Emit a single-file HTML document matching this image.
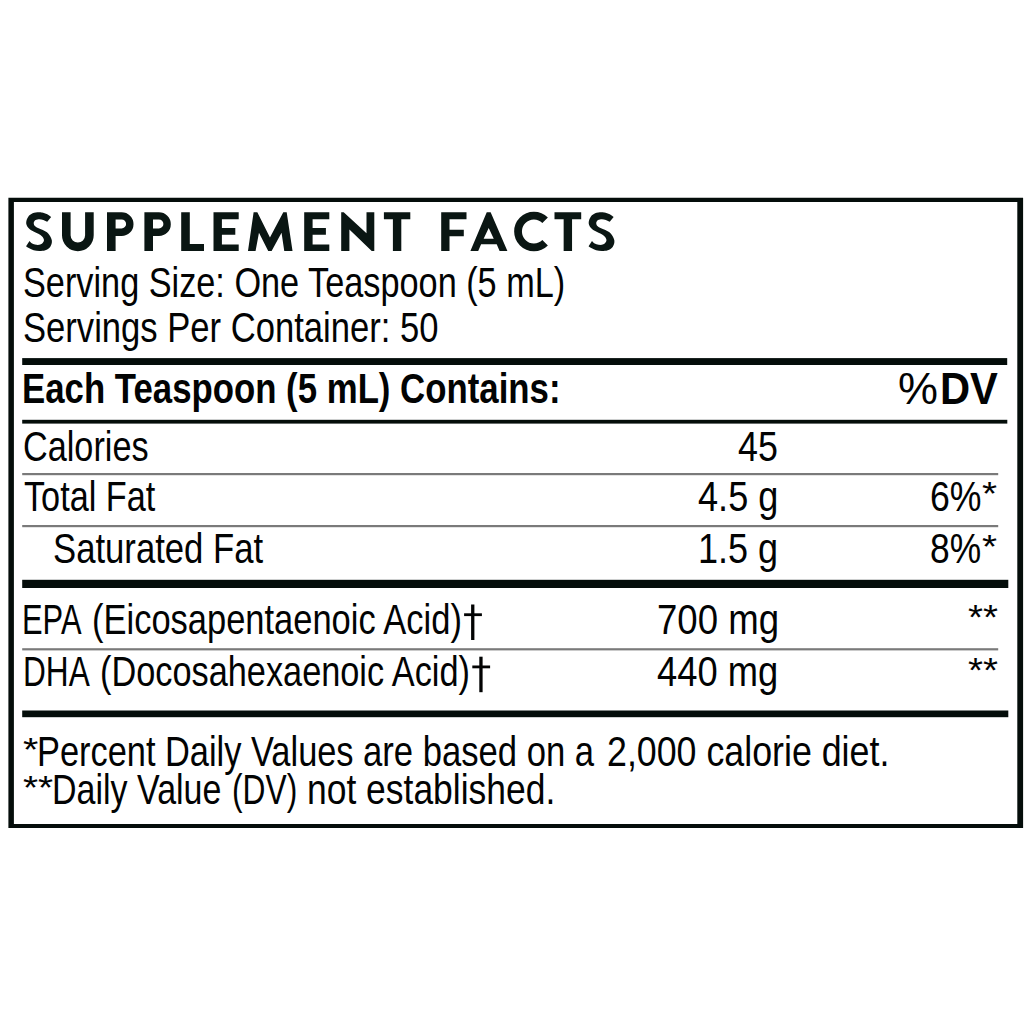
<!DOCTYPE html>
<html><head><meta charset="utf-8"><title>Supplement Facts</title>
<style>
html,body{margin:0;padding:0;background:#fff;}
body{width:1028px;height:1028px;position:relative;overflow:hidden;font-family:"Liberation Sans",sans-serif;color:#020303;}
.t{position:absolute;white-space:nowrap;line-height:1;transform-origin:0 0;margin:0;padding:0;}
#wrap{position:absolute;left:0;top:0;width:1028px;height:1028px;}
#l1{left:22.71px;top:261.40px;font-size:43px;font-weight:400;transform:scaleX(0.7969);}
#l2{left:22.69px;top:305.80px;font-size:43px;font-weight:400;transform:scaleX(0.8049);}
#h1{left:22.47px;top:367.30px;font-size:43px;font-weight:700;transform:scaleX(0.8088);}
#pc{left:897.64px;top:368.10px;font-size:43.6px;font-weight:400;transform:scaleX(1.0314);}
#dv{left:939.73px;top:368.10px;font-size:43.6px;font-weight:700;transform:scaleX(0.9561);}
#r1a{left:23.31px;top:424.50px;font-size:43px;font-weight:400;transform:scaleX(0.7961);}
#r1b{left:738.07px;top:424.50px;font-size:43px;font-weight:400;transform:scaleX(0.8333);}
#r2a{left:23.70px;top:475.10px;font-size:43px;font-weight:400;transform:scaleX(0.7963);}
#r2b{left:698.26px;top:475.10px;font-size:43px;font-weight:400;transform:scaleX(0.8402);}
#r2c{left:929.74px;top:475.10px;font-size:43px;font-weight:400;transform:scaleX(0.8288);}
#r3a{left:53.49px;top:526.90px;font-size:43px;font-weight:400;transform:scaleX(0.8066);}
#r3b{left:698.49px;top:526.90px;font-size:43px;font-weight:400;transform:scaleX(0.8378);}
#r3c{left:930.16px;top:526.90px;font-size:43px;font-weight:400;transform:scaleX(0.8220);}
#r4a0{left:22.33px;top:597.80px;font-size:43px;font-weight:400;transform:scaleX(0.7177);}
#r4a{left:92.39px;top:597.80px;font-size:43px;font-weight:400;transform:scaleX(0.8018);}
#r4b{left:656.50px;top:597.90px;font-size:43px;font-weight:400;transform:scaleX(0.8504);}
#r5a0{left:22.96px;top:650.00px;font-size:43px;font-weight:400;transform:scaleX(0.7356);}
#r5a{left:100.11px;top:650.00px;font-size:43px;font-weight:400;transform:scaleX(0.7978);}
#r5b{left:657.36px;top:650.10px;font-size:43px;font-weight:400;transform:scaleX(0.8443);}
#f1a{left:37.20px;top:730.10px;font-size:43px;font-weight:400;transform:scaleX(0.7995);}
#f1b{left:363.39px;top:730.10px;font-size:43px;font-weight:400;transform:scaleX(0.8053);}
#f1c{left:607.34px;top:730.10px;font-size:43px;font-weight:400;transform:scaleX(0.8317);}
#f2a{left:52.44px;top:768.30px;font-size:43px;font-weight:400;transform:scaleX(0.7904);}
#f2b{left:231.68px;top:768.30px;font-size:43px;font-weight:400;transform:scaleX(0.7386);}
#f2c{left:306.73px;top:768.30px;font-size:43px;font-weight:400;transform:scaleX(0.8241);}
#a1{left:982.32px;top:477.32px;font-size:36px;font-weight:400;transform:scale(1.0750,0.9462);}
#a2{left:982.32px;top:529.62px;font-size:36px;font-weight:400;transform:scale(1.0750,0.9462);}
#a3{left:967.53px;top:600.15px;font-size:36px;font-weight:400;transform:scale(1.0692,0.9615);}
#a4{left:967.53px;top:652.75px;font-size:36px;font-weight:400;transform:scale(1.0692,0.9615);}
#a5{left:22.71px;top:732.62px;font-size:36px;font-weight:400;transform:scale(1.0917,0.9462);}
#a6{left:22.72px;top:771.32px;font-size:36px;font-weight:400;transform:scale(1.0769,0.9462);}
</style></head><body>
<div id="wrap">
<svg id="lines" width="1028" height="1028" viewBox="0 0 1028 1028" style="position:absolute;left:0;top:0"><path fill="#040d0a" fill-rule="evenodd" d="M8.4,197.8H1023.1V828.1H8.4Z M13.9,202.1V824.0H1017.3V202.1Z"/><rect x="22.2" y="358.1" width="985.0" height="6.9" fill="#040d0a"/><rect x="22.2" y="419.8" width="985.1" height="3.8" fill="#040d0a"/><rect x="22.2" y="473.0" width="976.0" height="2.2" fill="#7a7a7a"/><rect x="22.2" y="525.0" width="976.0" height="2.2" fill="#7a7a7a"/><rect x="22.2" y="579.8" width="986.1" height="8.2" fill="#040d0a"/><rect x="22.2" y="648.2" width="976.0" height="2.2" fill="#7a7a7a"/><rect x="22.2" y="710.5" width="986.1" height="6.7" fill="#040d0a"/><rect x="471.1" y="604.5" width="3.3" height="35.5" fill="#020303"/><rect x="464.1" y="613.3" width="17.8" height="2.8" fill="#020303"/><rect x="479.3" y="656.7" width="3.3" height="35.5" fill="#020303"/><rect x="472.3" y="665.5" width="17.8" height="2.8" fill="#020303"/></svg>
<svg id="title" width="640" height="60" viewBox="0 200 640 60" style="position:absolute;left:0;top:200px;overflow:visible"><path fill="#0a1613" fill-rule="nonzero" d="M51.14,216.98C50.49,216.53 48.79,215.03 47.25,214.30C45.71,213.57 43.32,212.94 41.90,212.60C40.48,212.26 40.28,212.13 38.73,212.26C37.19,212.38 34.40,212.58 32.65,213.33C30.91,214.07 29.34,215.27 28.27,216.73C27.20,218.19 26.39,220.46 26.23,222.09C26.07,223.71 26.47,225.09 27.30,226.46C28.13,227.84 29.73,229.30 31.19,230.36C32.65,231.41 34.52,232.02 36.06,232.79C37.60,233.56 39.22,234.09 40.44,234.98C41.65,235.87 42.81,237.09 43.36,238.14C43.91,239.20 44.15,240.27 43.75,241.31C43.34,242.34 42.21,243.78 40.92,244.37C39.64,244.96 37.52,244.99 36.06,244.86C34.60,244.73 33.26,244.23 32.17,243.59C31.07,242.96 29.94,241.48 29.49,241.06L26.08,246.17C26.61,246.54 27.99,247.67 29.25,248.36C30.50,249.05 31.92,249.86 33.63,250.31C35.33,250.76 37.52,251.04 39.46,251.04C41.41,251.04 43.52,251.00 45.30,250.31C47.09,249.62 49.08,248.52 50.17,246.90C51.27,245.28 52.20,242.81 51.87,240.58C51.55,238.35 49.72,235.26 48.22,233.52C46.72,231.78 44.57,231.05 42.87,230.11C41.17,229.18 39.38,228.65 38.00,227.92C36.63,227.19 35.30,226.63 34.60,225.73C33.89,224.84 33.61,223.55 33.77,222.57C33.93,221.60 34.62,220.46 35.57,219.90C36.52,219.33 38.17,219.17 39.46,219.17C40.76,219.17 42.06,219.45 43.36,219.90C44.66,220.34 46.60,221.52 47.25,221.84Z"/><path fill="#0a1613" fill-rule="evenodd" d="M107.00,212.3H121.60A11.90,11.90 0 0 1 121.60,236.1H115.60V251.0H107.00ZM115.60,219.40V228.40H121.60A4.50,4.50 0 0 0 121.60,219.40Z"/><path fill="#0a1613" fill-rule="evenodd" d="M144.40,212.3H158.90A11.90,11.90 0 0 1 158.90,236.1H153.00V251.0H144.40ZM153.00,219.40V228.40H158.90A4.50,4.50 0 0 0 158.90,219.40Z"/><path fill="#0a1613" fill-rule="nonzero" d="M181.20,212.30H189.80V251.00H181.20ZM181.20,244.10H204.00V251.00H181.20Z"/><path fill="#0a1613" fill-rule="nonzero" d="M213.50,212.30H221.90V251.00H213.50ZM213.50,212.30H238.70V219.20H213.50ZM213.50,228.00H235.30V234.70H213.50ZM213.50,244.40H238.70V251.00H213.50Z"/><path fill="#0a1613" fill-rule="nonzero" d="M247.98,251.00L253.62,212.30L257.32,212.30L269.96,237.60L283.29,212.30L286.69,212.30L292.53,251.00L284.26,251.00L281.54,232.70L271.61,251.00L268.21,251.00L258.97,232.70L255.56,251.00Z"/><path fill="#0a1613" fill-rule="nonzero" d="M304.20,212.30H312.60V251.00H304.20ZM304.20,212.30H329.30V219.20H304.20ZM304.20,228.00H325.90V234.70H304.20ZM304.20,244.40H329.30V251.00H304.20Z"/><path fill="#0a1613" fill-rule="nonzero" d="M341.20,251.00L341.20,212.30L343.70,212.30L366.50,233.20L366.50,212.30L374.30,212.30L374.30,251.00L371.70,251.00L349.40,229.50L349.40,251.00Z"/><path fill="#0a1613" fill-rule="nonzero" d="M383.90,212.30H410.30V219.20H383.90ZM392.90,212.30H401.30V251.00H392.90Z"/><path fill="#0a1613" fill-rule="nonzero" d="M441.20,212.30H449.50V251.00H441.20ZM441.20,212.30H466.50V219.20H441.20ZM441.20,229.80H463.80V236.20H441.20Z"/><path fill="#0a1613" fill-rule="evenodd" d="M470.40,251.00L486.75,212.30L490.65,212.30L507.40,251.00L499.60,251.00L496.70,244.30L481.10,244.30L478.20,251.00ZM488.70,228.00L483.65,238.85L493.75,238.85Z"/><path fill="#0a1613" fill-rule="nonzero" d="M554.50,212.30H581.20V219.20H554.50ZM563.65,212.30H572.05V251.00H563.65Z"/><path fill="#0a1613" fill-rule="nonzero" d="M613.64,216.98C612.99,216.53 611.29,215.03 609.75,214.30C608.21,213.57 605.82,212.94 604.40,212.60C602.98,212.26 602.78,212.13 601.23,212.26C599.69,212.38 596.90,212.58 595.15,213.33C593.41,214.07 591.84,215.27 590.77,216.73C589.70,218.19 588.89,220.46 588.73,222.09C588.57,223.71 588.97,225.09 589.80,226.46C590.63,227.84 592.23,229.30 593.69,230.36C595.15,231.41 597.02,232.02 598.56,232.79C600.10,233.56 601.72,234.09 602.94,234.98C604.15,235.87 605.31,237.09 605.86,238.14C606.41,239.20 606.65,240.27 606.25,241.31C605.84,242.34 604.71,243.78 603.42,244.37C602.14,244.96 600.02,244.99 598.56,244.86C597.10,244.73 595.76,244.23 594.67,243.59C593.57,242.96 592.44,241.48 591.99,241.06L588.58,246.17C589.11,246.54 590.49,247.67 591.75,248.36C593.00,249.05 594.42,249.86 596.13,250.31C597.83,250.76 600.02,251.04 601.96,251.04C603.91,251.04 606.02,251.00 607.80,250.31C609.59,249.62 611.58,248.52 612.67,246.90C613.77,245.28 614.70,242.81 614.37,240.58C614.05,238.35 612.22,235.26 610.72,233.52C609.22,231.78 607.07,231.05 605.37,230.11C603.67,229.18 601.88,228.65 600.50,227.92C599.13,227.19 597.80,226.63 597.10,225.73C596.39,224.84 596.11,223.55 596.27,222.57C596.43,221.60 597.12,220.46 598.07,219.90C599.02,219.33 600.67,219.17 601.96,219.17C603.26,219.17 604.56,219.45 605.86,219.90C607.16,220.34 609.10,221.52 609.75,221.84Z"/><path fill="none" stroke="#0a1613" stroke-width="8.6" d="M66.30,212.30V235.35A11.55,11.55 0 0 0 89.40,235.35V212.30"/><path fill="none" stroke="#0a1613" stroke-width="7.8" d="M545.11,220.34A15.85,15.85 0 1 0 545.11,242.76"/></svg>
<div class="t" id="l1">Serving Size: One Teaspoon (5 mL)</div>
<div class="t" id="l2">Servings Per Container: 50</div>
<div class="t" id="h1">Each Teaspoon (5 mL) Contains:</div>
<div class="t" id="pc">%</div>
<div class="t" id="dv">DV</div>
<div class="t" id="r1a">Calories</div>
<div class="t" id="r1b">45</div>
<div class="t" id="r2a">Total Fat</div>
<div class="t" id="r2b">4.5 g</div>
<div class="t" id="r2c">6%</div>
<div class="t" id="r3a">Saturated Fat</div>
<div class="t" id="r3b">1.5 g</div>
<div class="t" id="r3c">8%</div>
<div class="t" id="r4a0">EPA</div>
<div class="t" id="r4a">(Eicosapentaenoic Acid)</div>
<div class="t" id="r4b">700 mg</div>
<div class="t" id="r5a0">DHA</div>
<div class="t" id="r5a">(Docosahexaenoic Acid)</div>
<div class="t" id="r5b">440 mg</div>
<div class="t" id="f1a">Percent Daily Values</div>
<div class="t" id="f1b">are based on a</div>
<div class="t" id="f1c">2,000 calorie diet.</div>
<div class="t" id="f2a">Daily Value</div>
<div class="t" id="f2b">(DV)</div>
<div class="t" id="f2c">not established.</div>
<div class="t" id="a1">*</div>
<div class="t" id="a2">*</div>
<div class="t" id="a3">**</div>
<div class="t" id="a4">**</div>
<div class="t" id="a5">*</div>
<div class="t" id="a6">**</div>
</div>
</body></html>
